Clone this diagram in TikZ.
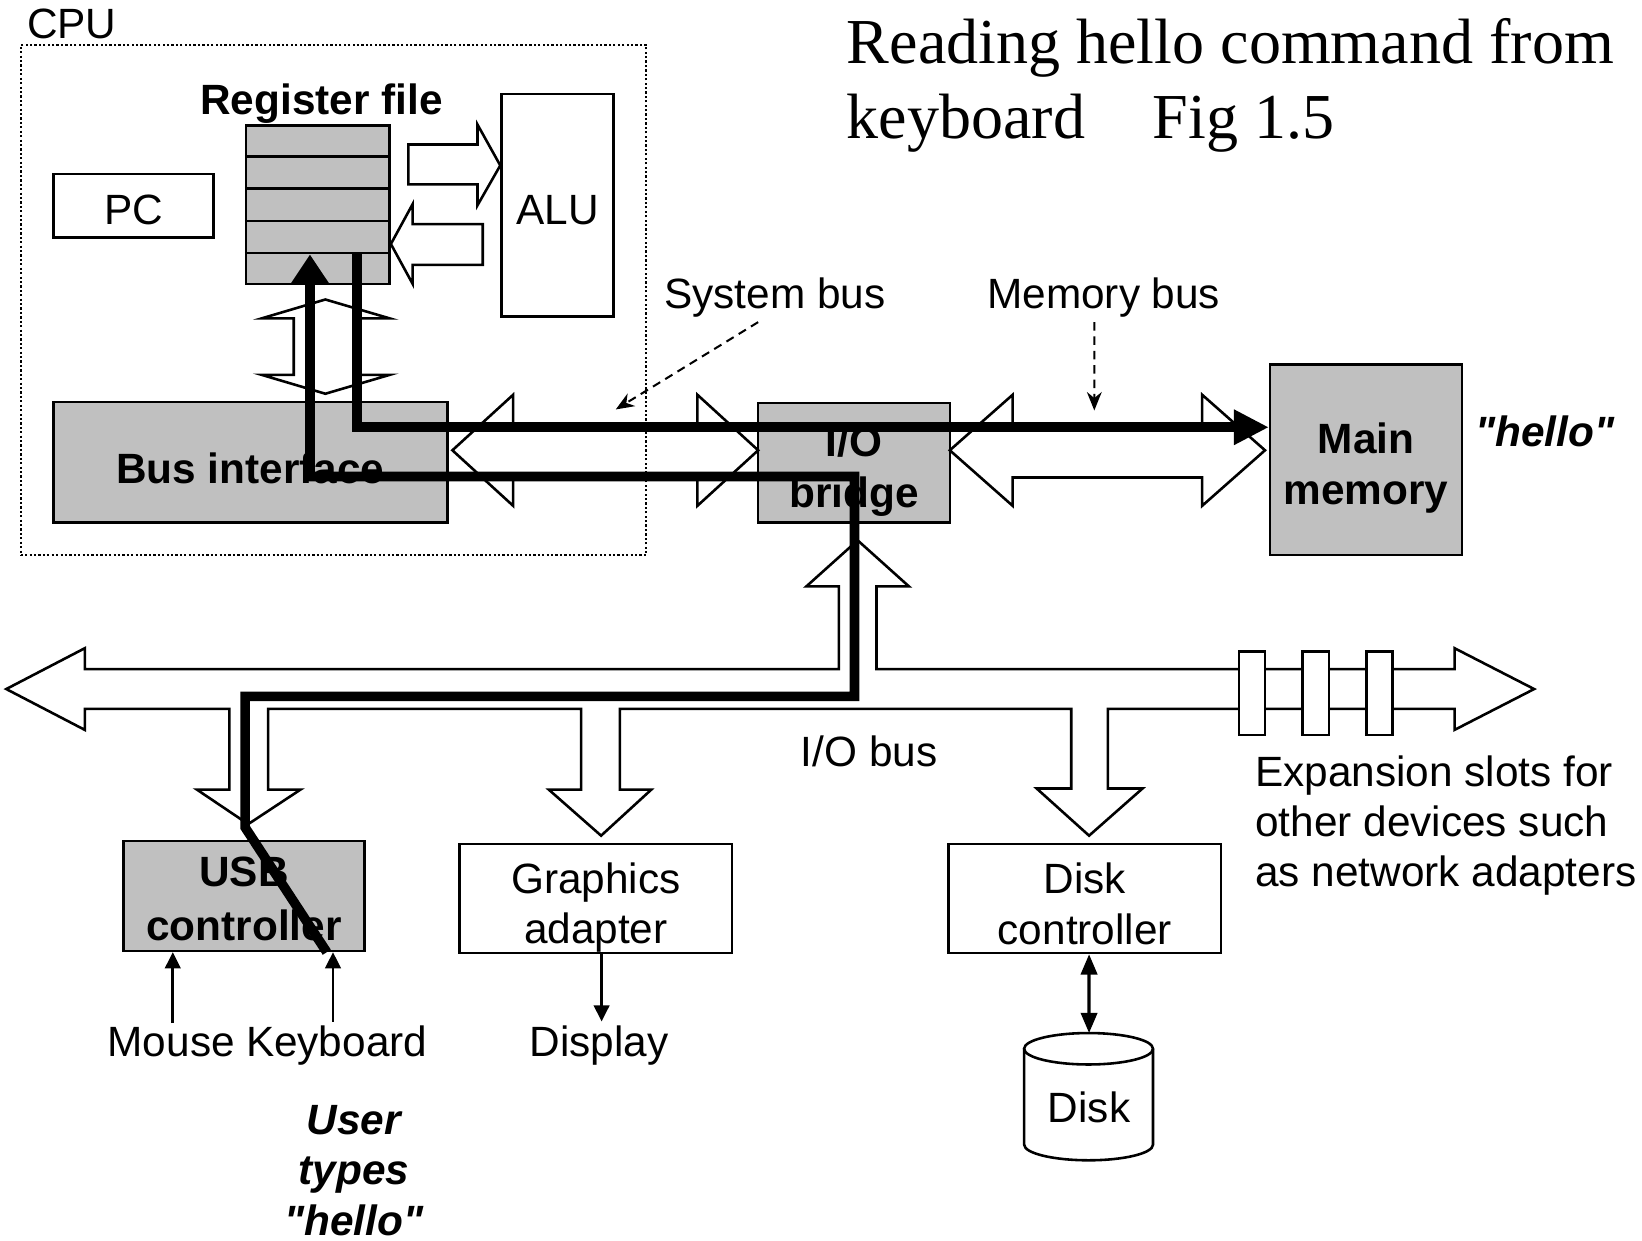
\documentclass[tikz,border=0pt]{standalone}
\usepackage{fontspec}
\setmainfont{Liberation Sans}
\newfontfamily\titlefont{Liberation Serif}
\newfontfamily\quotefont{Liberation Sans}[Ligatures=TeXOff]
\usetikzlibrary{arrows.meta,calc}
\definecolor{boxgray}{HTML}{C0C0C0}
\newcommand\lblfont{\fontsize{11.5}{14}\selectfont}
\newcommand\dq{{\quotefont\symbol{34}}}

\begin{document}
\begin{tikzpicture}[x=0.01cm,y=-0.01cm,
  outline/.style={line width=0.7pt},
  unitbox/.style={draw, line width=0.7pt, inner sep=0pt},
  graybox/.style={unitbox, fill=boxgray},
  whitebox/.style={unitbox, fill=white},
  txt/.style={inner sep=1pt, align=center, font=\lblfont, anchor=base},
  boldtxt/.style={txt, font=\lblfont\bfseries},
  emtxt/.style={txt, font=\lblfont\bfseries\itshape},
  blockarrow/.style={draw, fill=white, line width=0.7pt, line join=miter},
  datapath/.style={line width=2.6pt, line join=miter},
  wire/.style={line width=0.75pt, -{Triangle[length=4.4pt,width=4.2pt]}},
  wire2/.style={line width=0.9pt, {Triangle[length=5.5pt,width=4.4pt]}-{Triangle[length=5.5pt,width=4.4pt]}},
  pointer/.style={line width=0.55pt, dash pattern=on 2.3pt off 1.6pt, -{Stealth[length=5pt,width=4pt]}}
]
\useasboundingbox (0,0) rectangle (1568,1185);

% ---------- CPU units ----------
\node[graybox, minimum width=1.37cm, minimum height=1.51cm] (regfile) at (303.5,195.5) {};
\foreach \f in {0.2,0.4,0.6,0.8}
  \draw[outline] ($(regfile.north west)!\f!(regfile.south west)$) -- ($(regfile.north east)!\f!(regfile.south east)$);
\node[boldtxt] (reglbl) at (307,109) {Register file};
\node[whitebox, minimum width=1.53cm, minimum height=0.61cm] (pc) at (127.5,196.5) {};
\node[txt] (pctxt) at (128,214.5) {PC};
\node[whitebox, minimum width=1.07cm, minimum height=2.12cm] (alu) at (532.5,196) {};
\node[txt] (alutxt) at (532.5,214.5) {ALU};
\node[graybox, minimum width=3.76cm, minimum height=1.15cm] (busif) at (239,441.5) {};
\node[boldtxt] (busiftxt) at (239,461.5) {Bus interface};

% ---------- other units ----------
\node[graybox, minimum width=1.83cm, minimum height=1.14cm] (bridge) at (815.5,442) {};
\node[boldtxt] (bridgetxt) at (815.5,485) {I/O\\bridge};
\node[graybox, minimum width=1.83cm, minimum height=1.82cm] (mainmem) at (1304.5,439) {};
\node[boldtxt] (mainmemtxt) at (1304.5,482) {Main\\memory};
\node[graybox, minimum width=2.30cm, minimum height=1.05cm] (usb) at (233,855.5) {};
\node[boldtxt, font=\fontsize{11.5}{14.5}\selectfont\bfseries] (usbtxt) at (233,898) {USB\\controller};
\node[whitebox, minimum width=2.60cm, minimum height=1.04cm] (gfx) at (569,858) {};
\node[txt, font=\fontsize{11.5}{13.7}\selectfont] (gfxtxt) at (569,901) {Graphics\\adapter};
\node[whitebox, minimum width=2.60cm, minimum height=1.04cm] (diskctl) at (1036,858) {};
\node[txt, font=\fontsize{11.5}{13.7}\selectfont] (diskctltxt) at (1036,901.5) {Disk\\controller};

% ---------- block arrows ----------
% register file -> ALU
\draw[blockarrow] (390,138) -- (456,138) -- (456,119) -- (alu.west |- 0,158) -- (456,196) -- (456,176) -- (390,176) -- cycle;
% ALU -> register file
\draw[blockarrow] (461,214) -- (394,214) -- (394,195) -- (regfile.east |- 0,233) -- (394,271) -- (394,253) -- (461,253) -- cycle;
% register file <-> bus interface
\draw[blockarrow] (280.5,304) -- (250,304) -- (310.7,286) -- (372,304) -- (341.6,304) -- (341.6,358)
  -- (372,358) -- (310.7,376) -- (250,358) -- (280.5,358) -- cycle;
% system bus
\draw[blockarrow] (432,430) -- (490,377) -- (490,407) -- (666,407) -- (666,377) -- (724,430)
  -- (666,483) -- (666,454) -- (490,454) -- (490,483) -- cycle;
% memory bus
\draw[blockarrow] (907,430) -- (967,377) -- (967,407) -- (1148,407) -- (1148,377) -- (1208,430)
  -- (1148,483) -- (1148,456) -- (967,456) -- (967,483) -- cycle;
% I/O bus with its branches
\draw[blockarrow] (6,658) -- (81,619) -- (81,639) -- (801,639) -- (801,560) -- (770,560) -- (819,516)
  -- (868,560) -- (837,560) -- (837,639) -- (1389,639) -- (1389,619) -- (1465,658) -- (1389,697)
  -- (1389,677) -- (1058,677) -- (1058,753) -- (1091,753) -- (1040,798) -- (990,753) -- (1023,753)
  -- (1023,677) -- (592,677) -- (592,754) -- (622,754) -- (574,798) -- (524,754) -- (555,754)
  -- (555,677) -- (256,677) -- (256,754) -- (287,754) -- (237,787) -- (188,754) -- (219,754)
  -- (219,677) -- (81,677) -- (81,697) -- cycle;
% expansion slots
\foreach \sx/\sn in {1183/1,1244/2,1305/3}
  \node[draw, fill=white, line width=0.7pt, inner sep=0, minimum width=0.25cm, minimum height=0.80cm] (slot\sn) at (\sx+12.5,662) {};

% ---------- CPU boundary ----------
\node[draw, line width=0.6pt, dash pattern=on 0.6pt off 0.6pt, inner sep=0,
      minimum width=5.97cm, minimum height=4.87cm] (cpu) at (318.5,286.5) {};
\node[txt] (cpulbl) at (68.5,37) {CPU};

% ---------- labels ----------
\node[txt, anchor=base west, inner sep=0, align=left, font=\titlefont\fontsize{17.4}{20.3}\selectfont] (title) at (808,132)
  {Reading hello command from\\keyboard\hspace{1.05em}Fig 1.5};
\node[txt] (syslbl) at (740,295) {System bus};
\node[txt] (memlbl) at (1054,295) {Memory bus};
\node[emtxt] (memhello) at (1475,426) {\dq hello\dq};
\node[txt] (iolbl) at (830,732) {I/O bus};
\node[txt, anchor=base west, inner sep=0, align=left, font=\fontsize{11.5}{13.7}\selectfont] (explbl) at (1198,847)
  {Expansion slots for\\other devices such\\as network adapters};
\node[txt] (mouse) at (163.5,1009) {Mouse};
\node[txt] (kbd) at (321.5,1009) {Keyboard};
\node[txt] (display) at (572,1009) {Display};
\node[emtxt, font=\fontsize{11.5}{13.8}\selectfont\bfseries\itshape] (user) at (338,1180) {User\\types\\\dq hello\dq};

% ---------- disk ----------
\draw[outline, fill=white] (978,1001.5) -- (978,1093) arc[start angle=180, end angle=360, x radius=0.615cm, y radius=0.15cm] -- (1101,1001.5);
\draw[outline] (1039.5,1001.5) ellipse [x radius=0.615cm, y radius=0.15cm];
\coordinate (disktop) at (1040,986.5);
\node[txt] (disk) at (1040,1072) {Disk};

% ---------- pointers to the buses ----------
\coordinate (sysbus) at (588,391);
\coordinate (membus) at (1045,392);
\draw[pointer] ([xshift=-0.16cm]syslbl.south) -- (sysbus);
\draw[pointer] ([xshift=-0.09cm]memlbl.south) -- (membus);

% ---------- device wires ----------
\draw[wire] ([xshift=0.015cm]mouse.north) -- ([xshift=0.015cm]mouse.north |- usb.south);
\draw[wire] ([xshift=-0.035cm]kbd.north) -- ([xshift=-0.035cm]kbd.north |- usb.south);
\draw[wire] ([xshift=0.055cm]gfx.south) -- ([xshift=0.055cm]gfx.south |- display.north);
\draw[wire2] ([xshift=0.04cm]diskctl.south) -- (disktop);

% ---------- path of the typed characters ----------
\draw[datapath, -{Triangle[length=8pt,width=10pt]}]
  ([xshift=0.79cm]usb.south) -- (234,790) -- (234,665) -- (816,665) -- (816,455) -- (296,455) -- (296,243);
\draw[datapath, -{Triangle[length=9.5pt,width=9pt]}]
  (341,243) -- (341,408) -- (mainmem.west |- 0,408);
\end{tikzpicture}
\end{document}
